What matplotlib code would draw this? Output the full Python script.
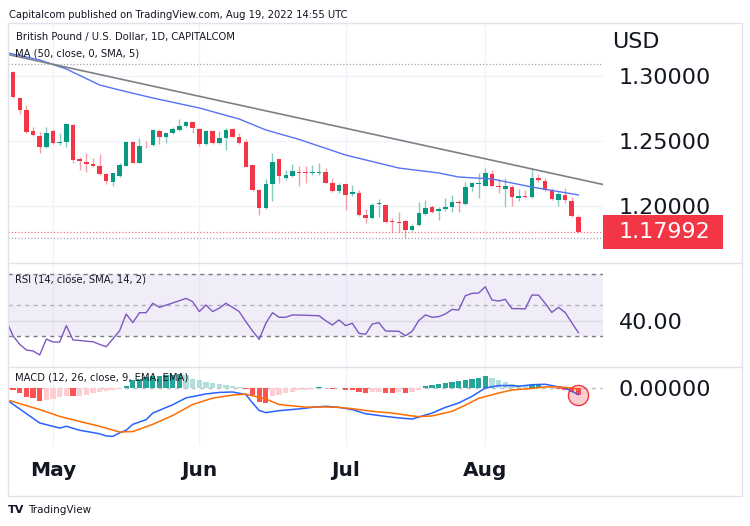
import numpy as np
import pandas as pd
import matplotlib
matplotlib.use("Agg")
import matplotlib.pyplot as plt
from matplotlib.patches import Rectangle
from matplotlib import transforms

# GBPUSD daily candles, 21 Apr - 19 Aug 2022
dates = pd.bdate_range("2022-04-21", "2022-08-19")

opens = [1.3059, 1.3028, 1.2828, 1.2738, 1.2579, 1.2538, 1.2451,
         1.2577, 1.2487, 1.2492, 1.2623, 1.2359, 1.2336, 1.2326, 1.2308, 1.2246, 1.2187, 1.2231,
         1.2310, 1.2490, 1.2333, 1.2464, 1.2469, 1.2577, 1.2528, 1.2564, 1.2585, 1.2615, 1.2649,
         1.2592, 1.2477, 1.2579, 1.2482, 1.2526, 1.2590, 1.2533, 1.2490, 1.2313, 1.2123, 1.1987,
         1.2169, 1.2362, 1.2218, 1.2233, 1.2262, 1.2262, 1.2251, 1.2251, 1.2259, 1.2174, 1.2115,
         1.2169, 1.2092, 1.2097, 1.1931, 1.1905, 1.2015, 1.2005, 1.1882, 1.1879, 1.1882, 1.1813,
         1.1854, 1.1938, 1.1995, 1.1964, 1.1977, 1.1992, 1.2031, 1.2013, 1.2149, 1.2169,
         1.2156, 1.2244, 1.2154, 1.2133, 1.2149, 1.2059, 1.2077, 1.2072, 1.2213, 1.2192, 1.2123,
         1.2046, 1.2085, 1.2038, 1.1918]
highs = [1.3092, 1.3038, 1.2841, 1.2777, 1.2605, 1.2572, 1.2610,
         1.2590, 1.2564, 1.2641, 1.2631, 1.2374, 1.2405, 1.2372, 1.2397, 1.2251, 1.2256, 1.2328,
         1.2500, 1.2500, 1.2521, 1.2500, 1.2592, 1.2592, 1.2564, 1.2610, 1.2667, 1.2654, 1.2654,
         1.2597, 1.2585, 1.2585, 1.2577, 1.2603, 1.2597, 1.2559, 1.2515, 1.2318, 1.2128, 1.2205,
         1.2405, 1.2362, 1.2277, 1.2321, 1.2308, 1.2308, 1.2315, 1.2328, 1.2290, 1.2213, 1.2179,
         1.2179, 1.2159, 1.2123, 1.1974, 1.2021, 1.2051, 1.2010, 1.1905, 1.1956, 1.1892, 1.1862,
         1.2033, 1.2046, 1.2008, 1.1995, 1.2064, 1.2085, 1.2046, 1.2182, 1.2182, 1.2251,
         1.2290, 1.2277, 1.2205, 1.2213, 1.2162, 1.2131, 1.2123, 1.2290, 1.2244, 1.2213, 1.2141,
         1.2110, 1.2141, 1.2072, 1.1928]
lows = [1.3021, 1.2828, 1.2705, 1.2564, 1.2538, 1.2410, 1.2444,
        1.2477, 1.2469, 1.2456, 1.2328, 1.2277, 1.2264, 1.2303, 1.2236, 1.2167, 1.2154, 1.2221,
        1.2308, 1.2328, 1.2328, 1.2444, 1.2462, 1.2477, 1.2487, 1.2554, 1.2579, 1.2610, 1.2564,
        1.2462, 1.2472, 1.2477, 1.2477, 1.2431, 1.2528, 1.2477, 1.2297, 1.2118, 1.1931, 1.1977,
        1.2038, 1.2174, 1.2200, 1.2226, 1.2154, 1.2174, 1.2238, 1.2238, 1.2174, 1.2108, 1.2103,
        1.1969, 1.2080, 1.1926, 1.1872, 1.1900, 1.1918, 1.1872, 1.1803, 1.1803, 1.1756, 1.1805,
        1.1849, 1.1931, 1.1949, 1.1892, 1.1964, 1.1956, 1.1956, 1.2008, 1.2118, 1.2059,
        1.2154, 1.2154, 1.2097, 1.1995, 1.2000, 1.2041, 1.2059, 1.2064, 1.2182, 1.2118, 1.2046,
        1.2003, 1.2026, 1.1918, 1.1795]
closes = [1.3033, 1.2836, 1.2738, 1.2572, 1.2546, 1.2451, 1.2564,
          1.2487, 1.2495, 1.2628, 1.2354, 1.2349, 1.2326, 1.2310, 1.2244, 1.2195, 1.2251, 1.2313,
          1.2490, 1.2333, 1.2464, 1.2459, 1.2585, 1.2528, 1.2559, 1.2590, 1.2618, 1.2646, 1.2597,
          1.2477, 1.2579, 1.2482, 1.2526, 1.2585, 1.2533, 1.2482, 1.2303, 1.2123, 1.1987, 1.2169,
          1.2341, 1.2231, 1.2238, 1.2269, 1.2251, 1.2251, 1.2262, 1.2264, 1.2179, 1.2115, 1.2162,
          1.2085, 1.2108, 1.1931, 1.1905, 1.2010, 1.2026, 1.1877, 1.1874, 1.1872, 1.1815, 1.1849,
          1.1944, 1.1982, 1.1956, 1.1974, 1.1995, 1.2028, 1.2021, 1.2149, 1.2174, 1.2179,
          1.2251, 1.2156, 1.2144, 1.2154, 1.2067, 1.2077, 1.2069, 1.2213, 1.2203, 1.2123, 1.2051,
          1.2090, 1.2046, 1.1923, 1.17992]

# MA(50)
ma_dates = ["04-21", "04-28", "05-04", "05-11", "05-16", "05-23", "06-01", "06-09", "06-15",
            "06-22", "07-01", "07-13", "07-21", "07-26", "08-02", "08-10", "08-19"]
ma_values = [1.3180, 1.3123, 1.3054, 1.2931, 1.2892, 1.2831, 1.2754, 1.2669, 1.2585,
             1.2512, 1.2392, 1.2292, 1.2254, 1.2223, 1.2208, 1.2146, 1.2085]

# hand-drawn trend line (two anchor points)
trend_dates = ["04-21", "08-10"]
trend_prices = [1.3168, 1.2285]

# RSI(14)
rsi = [39.8, 30.3, 25.0, 21.4, 20.8, 18.3, 28.4, 26.5, 26.5, 36.9,
       27.8, 27.5, 27.0, 26.7, 25.0, 23.5, 28.5, 33.5, 44.3, 38.8,
       45.1, 45.1, 51.1, 48.5, 49.9, 51.3, 52.7, 54.2, 52.1, 45.8,
       50.0, 45.8, 48.0, 51.1, 48.5, 45.8, 39.4, 33.5, 28.2, 38.4,
       45.1, 42.2, 42.2, 43.7, 43.6, 43.5, 43.3, 43.2, 40.0, 37.3,
       40.5, 36.9, 38.4, 32.0, 31.4, 37.9, 38.8, 33.5, 33.4, 33.3,
       30.5, 33.3, 40.1, 43.7, 42.2, 42.6, 44.3, 47.2, 46.8, 55.9,
       57.4, 57.6, 61.6, 53.2, 52.5, 53.6, 47.7, 47.7, 47.5, 56.3,
       56.3, 51.1, 45.3, 48.5, 45.3, 38.8, 32.4]

# MACD(12, 26, 9)
hist = [-0.0008, -0.0011, -0.0023, -0.0041, -0.0045, -0.0061, -0.0056, -0.0050, -0.0041, -0.0035,
        -0.0038, -0.0035, -0.0030, -0.0023, -0.0020, -0.0015, -0.0011, -0.0005, 0.0008, 0.0038,
        0.0042, 0.0050, 0.0053, 0.0056, 0.0059, 0.0061, 0.0062, 0.0059, 0.0041, 0.0035,
        0.0029, 0.0024, 0.0020, 0.0015, 0.0011, 0.0005, -0.0005, -0.0030, -0.0065, -0.0068,
        -0.0038, -0.0030, -0.0023, -0.0017, -0.0011, -0.0008, -0.0003, 0.0003, 0.0002, -0.0005,
        -0.0002, -0.0008, -0.0011, -0.0020, -0.0023, -0.0020, -0.0018, -0.0023, -0.0023, -0.0020,
        -0.0023, -0.0018, -0.0011, 0.0008, 0.0014, 0.0018, 0.0023, 0.0026, 0.0030, 0.0035,
        0.0041, 0.0045, 0.0053, 0.0045, 0.0035, 0.0026, 0.0020, 0.0015, 0.0011, 0.0014,
        0.0017, 0.0008, 0.0001, -0.0005, -0.0011, -0.0017, -0.0032]
macd_dates = ["04-21", "04-28", "05-03", "05-04", "05-06", "05-11", "05-12", "05-13", "05-16",
              "05-17", "05-18", "05-20", "05-23", "05-26", "05-30", "06-02", "06-06", "06-08",
              "06-10", "06-13", "06-14", "06-15", "06-17", "06-22", "06-24", "06-28", "06-30",
              "07-04", "07-06", "07-07", "07-11", "07-13", "07-15", "07-18", "07-20", "07-22",
              "07-26", "07-28", "08-01", "08-03", "08-05", "08-08", "08-10", "08-12", "08-15",
              "08-17", "08-18", "08-19"]
macd_values = [-0.0053, -0.0159, -0.0182, -0.0174, -0.0192, -0.0208, -0.0218, -0.0220, -0.0204,
               -0.0192, -0.0165, -0.0144, -0.0114, -0.0076, -0.0045, -0.0027, -0.0020, -0.0018,
               -0.0030, -0.0068, -0.0102, -0.0112, -0.0103, -0.0095, -0.0088, -0.0083, -0.0088,
               -0.0098, -0.0117, -0.0121, -0.0129, -0.0136, -0.0141, -0.0132, -0.0114, -0.0088,
               -0.0068, -0.0038, 0.0000, 0.0011, 0.0011, 0.0008, 0.0015, 0.0017, 0.0011,
               0.0000, -0.0015, -0.0030]
signal_dates = ["04-21", "04-28", "05-03", "05-06", "05-11", "05-16", "05-18", "05-23", "05-26",
                "05-31", "06-03", "06-08", "06-10", "06-15", "06-17", "06-23", "06-28", "06-30",
                "07-04", "07-07", "07-12", "07-15", "07-18", "07-20", "07-25", "07-27", "07-29",
                "08-03", "08-05", "08-10", "08-12", "08-16", "08-18", "08-19"]
signal_values = [-0.0053, -0.0098, -0.0129, -0.0152, -0.0174, -0.0200, -0.0198, -0.0165, -0.0125,
                 -0.0075, -0.0046, -0.0032, -0.0028, -0.0050, -0.0075, -0.0087, -0.0086, -0.0088,
                 -0.0094, -0.0106, -0.0114, -0.0127, -0.0130, -0.0127, -0.0106, -0.0078, -0.0047,
                 -0.0023, -0.0009, -0.0002, 0.0005, 0.0005, 0.0000, -0.0006]

UP, DOWN = "#089981", "#F23645"
UP_WICK, DOWN_WICK = "#86cbbf", "#f5a0a8"
TXT = "#131722"
GRID = "#F0F3FA"
BORDER = "#E0E3EB"
W, H = 750, 526


def fx(px):
    return px / W


def fy(py):
    return 1 - py / H


def pos(short_dates):
    return dates.get_indexer(pd.to_datetime(["2022-" + d for d in short_dates]))


fig = plt.figure(figsize=(7.5, 5.26), dpi=100)


def pane(top, bottom):
    a = fig.add_axes([fx(8), fy(bottom), fx(603) - fx(8), (bottom - top) / H])
    for s in a.spines.values():
        s.set_visible(False)
    a.set_xlim(0.23, 89.7)
    a.yaxis.tick_right()
    a.tick_params(axis="both", length=0, labelsize=16, labelcolor=TXT)
    a.tick_params(axis="y", pad=11.5)
    return a


ax_p = pane(23, 263)
ax_r = pane(263, 367)
ax_m = pane(367, 446)

x = np.arange(len(dates))
o, h, l, c = (np.array(v) for v in (opens, highs, lows, closes))
month_idx = [i for i in range(1, len(dates)) if dates[i].month != dates[i - 1].month]

# ---- price pane
ax_p.set_ylim(1.15615, 1.34077)
ax_p.set_yticks([1.20, 1.25, 1.30])
ax_p.yaxis.set_major_formatter(matplotlib.ticker.FormatStrFormatter("%.5f"))
ax_p.set_xticks(month_idx)
ax_p.tick_params(axis="x", labelbottom=False)
ax_p.grid(color=GRID, lw=1)
ax_p.set_axisbelow(True)

up = c >= o
ax_p.vlines(x, l, h, colors=np.where(up, UP_WICK, DOWN_WICK), lw=1, zorder=2)
ax_p.bar(x, np.maximum(np.abs(c - o), 0.0003), bottom=np.minimum(o, c), width=0.68,
         color=np.where(up, UP, DOWN), lw=0, zorder=3)

ax_p.plot(pos(ma_dates), ma_values, color="#5672F5", lw=1, zorder=4)
tx = pos(trend_dates)
ax_p.axline((tx[0], trend_prices[0]), (tx[1], trend_prices[1]), color="#7E8088", lw=1.2, zorder=4)

ax_p.axhline(h.max(), color="#A3A6AF", lw=0.9, ls=(0, (1, 1.6)))
ax_p.axhline(l.min(), color="#A3A6AF", lw=0.9, ls=(0, (1, 1.6)))
ax_p.axhline(c[-1], color=DOWN, lw=0.9, ls=(0, (1, 1.6)), alpha=0.7)

tr = transforms.blended_transform_factory(ax_p.transAxes, ax_p.transData)
ax_p.add_patch(Rectangle((1.0, c[-1] - 17 / 1300), 120 / 595, 34 / 1300, transform=tr,
                         color=DOWN, clip_on=False, zorder=6, lw=0))
ax_p.text(1.0 + 16 / 595, c[-1], f"{c[-1]:.5f}", transform=tr, color="white", fontsize=16,
          va="center", ha="left", zorder=7, clip_on=False)

# ---- RSI pane
ax_r.set_ylim(10.63, 76.67)
ax_r.set_yticks([40])
ax_r.yaxis.set_major_formatter(matplotlib.ticker.FormatStrFormatter("%.2f"))
ax_r.set_xticks(month_idx)
ax_r.tick_params(axis="x", labelbottom=False)
ax_r.grid(color=GRID, lw=1)
ax_r.set_axisbelow(True)
ax_r.axhspan(30, 70, color="#7E57C2", alpha=0.1, lw=0)
ax_r.axhline(40, color="#DCDDE3", lw=1)
for lvl, al in ((70, 1.0), (50, 0.5), (30, 1.0)):
    ax_r.axhline(lvl, color="#787B86", lw=1, ls=(0, (3, 3)), alpha=al)
ax_r.plot(x, rsi, color="#7E57C2", lw=1)

# ---- MACD pane
hv = np.array(hist)
prev = np.concatenate([[hv[0]], hv[:-1]])
cols = np.where(hv >= 0, np.where(hv > prev, "#26A69A", "#B2DFDB"),
                np.where(hv > prev, "#FFCDD2", "#FF5252"))
ax_m.set_ylim(-0.02636, 0.00955)
ax_m.set_yticks([0])
ax_m.yaxis.set_major_formatter(matplotlib.ticker.FormatStrFormatter("%.5f"))
ax_m.set_xticks(month_idx, labels=[d.strftime("%b") for d in dates[month_idx]])
ax_m.tick_params(axis="x", pad=11, labelsize=14.5)
for t in ax_m.get_xticklabels():
    t.set_fontweight("bold")
ax_m.grid(axis="x", color=GRID, lw=1)
ax_m.set_axisbelow(True)
ax_m.axhline(0, color="#9598A1", lw=1, ls=(0, (3, 3)), alpha=0.6)
ax_m.bar(x, hv, width=0.8, color=cols, lw=0, zorder=2)
ax_m.plot(pos(macd_dates), macd_values, color="#2962FF", lw=1.1, zorder=3)
ax_m.plot(pos(signal_dates), signal_values, color="#FF6D00", lw=1.1, zorder=3)
ax_m.scatter([x[-1]], [macd_values[-1]], s=210, facecolor=(0.95, 0.21, 0.27, 0.25),
             edgecolor=DOWN, lw=1, zorder=5, clip_on=False)

# ---- labels, frame, separators
fig.text(fx(9), fy(15), "Capitalcom published on TradingView.com, Aug 19, 2022 14:55 UTC",
         fontsize=7.2, color=TXT, va="center")
fig.text(fx(16), fy(37), "British Pound / U.S. Dollar, 1D, CAPITALCOM", fontsize=7.2, color=TXT, va="center")
fig.text(fx(15), fy(54), "MA (50, close, 0, SMA, 5)", fontsize=7.2, color=TXT, va="center")
fig.text(fx(15), fy(279), "RSI (14, close, SMA, 14, 2)", fontsize=7.2, color=TXT, va="center")
fig.text(fx(15), fy(378), "MACD (12, 26, close, 9, EMA, EMA)", fontsize=7.2, color=TXT, va="center", zorder=10)
fig.text(fx(612), fy(42), "USD", fontsize=16, color=TXT, va="center")

fig.add_artist(Rectangle((fx(8), fy(496)), fx(742) - fx(8), (496 - 23) / H, transform=fig.transFigure,
                         fill=False, ec=BORDER, lw=1))
for yy in (263, 367):
    fig.add_artist(plt.Line2D([fx(8), fx(742)], [fy(yy), fy(yy)], color=BORDER, lw=1))

fig.text(fx(8), fy(510), "TV", fontsize=8, fontweight="bold", color=TXT, va="center")
fig.text(fx(28), fy(510), "TradingView", fontsize=7.5, color=TXT, va="center")

fig.savefig("out.png", dpi=100, facecolor="white")
